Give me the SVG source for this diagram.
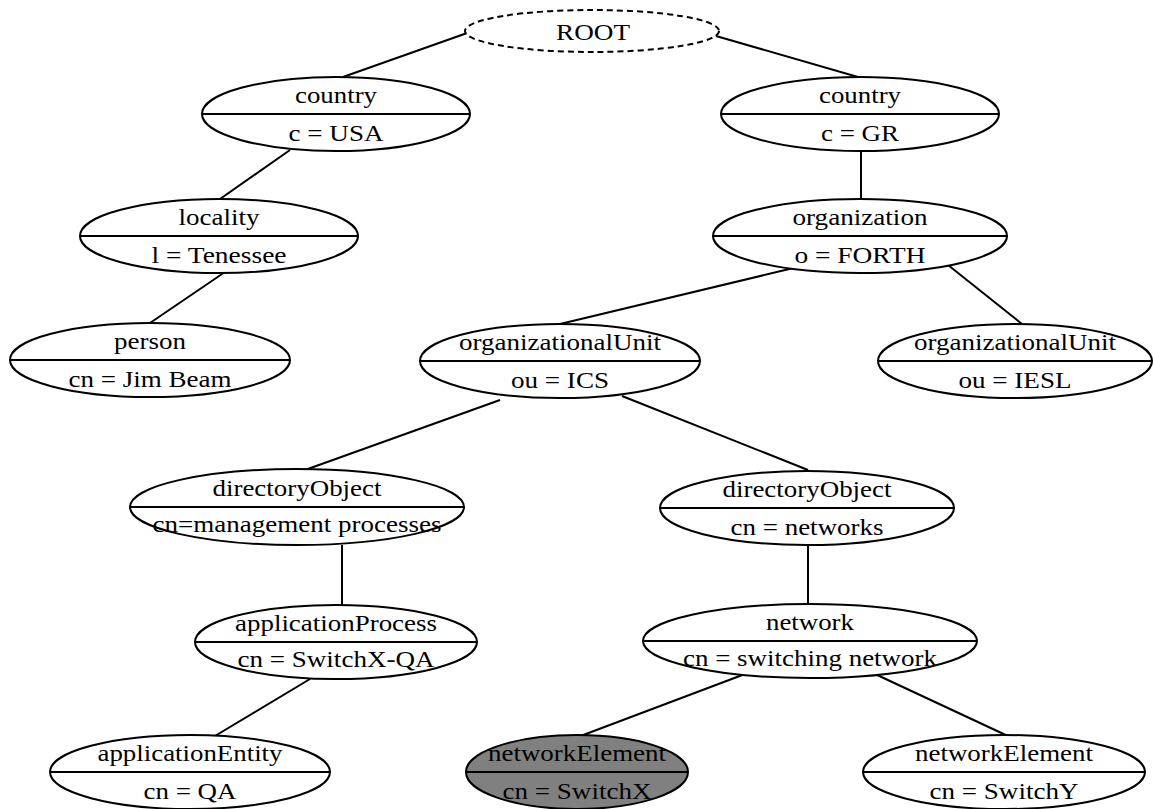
<svg xmlns="http://www.w3.org/2000/svg" width="1153" height="809" viewBox="0 0 1153 809">
  <style>
    .node ellipse { fill: #ffffff; stroke: #000000; stroke-width: 2; }
    .node line { stroke: #000000; stroke-width: 2; }
    .node text { font-family: "Liberation Serif", "Times New Roman", serif; font-size: 24px; fill: #000000; text-anchor: middle; }
    .node.dashed ellipse { stroke-dasharray: 6 4; }
    .node.selected ellipse { fill: #808080; }
    .edges line { stroke: #000000; stroke-width: 2; }
  </style>
  <rect width="1153" height="809" fill="#ffffff"/>

  <!-- tree edges -->
  <g id="edges" class="edges">
    <line x1="470" y1="32" x2="343" y2="77"/>
    <line x1="716" y1="36" x2="858" y2="77"/>
    <line x1="290" y1="150" x2="220" y2="199"/>
    <line x1="225" y1="272" x2="150" y2="323"/>
    <line x1="861" y1="151" x2="861" y2="199"/>
    <line x1="802" y1="266" x2="560" y2="324"/>
    <line x1="948" y1="265" x2="1022" y2="324"/>
    <line x1="500" y1="400" x2="305" y2="470"/>
    <line x1="622" y1="396" x2="808" y2="470"/>
    <line x1="342" y1="545" x2="342" y2="605"/>
    <line x1="808" y1="545" x2="808" y2="604"/>
    <line x1="310" y1="679" x2="200" y2="745"/>
    <line x1="745" y1="674" x2="570" y2="740"/>
    <line x1="875" y1="674" x2="1010" y2="737"/>
  </g>

  <!-- labels are slightly widened with textLength -->
  <g id="root" class="node dashed">
    <ellipse cx="592" cy="31" rx="127" ry="21"/>
    <text x="593" y="40" textLength="74" lengthAdjust="spacingAndGlyphs">ROOT</text>
  </g>

  <g id="country-usa" class="node">
    <ellipse cx="336" cy="114" rx="134" ry="37"/>
    <line x1="202" y1="114" x2="470" y2="114"/>
    <text x="336" y="103" textLength="82" lengthAdjust="spacingAndGlyphs">country</text>
    <text x="336" y="141" textLength="95" lengthAdjust="spacingAndGlyphs">c = USA</text>
  </g>

  <g id="country-gr" class="node">
    <ellipse cx="860" cy="114" rx="139" ry="37"/>
    <line x1="721" y1="114" x2="999" y2="114"/>
    <text x="860" y="103" textLength="82" lengthAdjust="spacingAndGlyphs">country</text>
    <text x="860" y="141" textLength="78" lengthAdjust="spacingAndGlyphs">c = GR</text>
  </g>

  <g id="locality" class="node">
    <ellipse cx="219" cy="236" rx="139" ry="37"/>
    <line x1="80" y1="236" x2="358" y2="236"/>
    <text x="219" y="225" textLength="81" lengthAdjust="spacingAndGlyphs">locality</text>
    <text x="219" y="263" textLength="135" lengthAdjust="spacingAndGlyphs">l = Tenessee</text>
  </g>

  <g id="organization" class="node">
    <ellipse cx="860" cy="236" rx="147" ry="37"/>
    <line x1="713" y1="236" x2="1007" y2="236"/>
    <text x="860" y="225" textLength="135" lengthAdjust="spacingAndGlyphs">organization</text>
    <text x="860" y="263" textLength="131" lengthAdjust="spacingAndGlyphs">o = FORTH</text>
  </g>

  <g id="person" class="node">
    <ellipse cx="150" cy="360" rx="140" ry="37"/>
    <line x1="10" y1="360" x2="290" y2="360"/>
    <text x="150" y="349" textLength="72" lengthAdjust="spacingAndGlyphs">person</text>
    <text x="150" y="387" textLength="163" lengthAdjust="spacingAndGlyphs">cn = Jim Beam</text>
  </g>

  <g id="ou-ics" class="node">
    <ellipse cx="560" cy="361" rx="140" ry="37"/>
    <line x1="420" y1="361" x2="700" y2="361"/>
    <text x="560" y="350" textLength="202" lengthAdjust="spacingAndGlyphs">organizationalUnit</text>
    <text x="560" y="388" textLength="98" lengthAdjust="spacingAndGlyphs">ou = ICS</text>
  </g>

  <g id="ou-iesl" class="node">
    <ellipse cx="1015" cy="361" rx="137" ry="37"/>
    <line x1="878" y1="361" x2="1152" y2="361"/>
    <text x="1015" y="350" textLength="202" lengthAdjust="spacingAndGlyphs">organizationalUnit</text>
    <text x="1015" y="388" textLength="113" lengthAdjust="spacingAndGlyphs">ou = IESL</text>
  </g>

  <g id="dir-management" class="node">
    <ellipse cx="297" cy="507" rx="167" ry="38"/>
    <line x1="130" y1="507" x2="464" y2="507"/>
    <text x="297" y="496" textLength="169" lengthAdjust="spacingAndGlyphs">directoryObject</text>
    <text x="297" y="532" textLength="289" lengthAdjust="spacingAndGlyphs">cn=management processes</text>
  </g>

  <g id="dir-networks" class="node">
    <ellipse cx="807" cy="508" rx="147" ry="37"/>
    <line x1="660" y1="508" x2="954" y2="508"/>
    <text x="807" y="497" textLength="169" lengthAdjust="spacingAndGlyphs">directoryObject</text>
    <text x="807" y="535" textLength="153" lengthAdjust="spacingAndGlyphs">cn = networks</text>
  </g>

  <g id="application-process" class="node">
    <ellipse cx="336" cy="642" rx="141" ry="37"/>
    <line x1="195" y1="642" x2="477" y2="642"/>
    <text x="336" y="631" textLength="202" lengthAdjust="spacingAndGlyphs">applicationProcess</text>
    <text x="336" y="667" textLength="197" lengthAdjust="spacingAndGlyphs">cn = SwitchX-QA</text>
  </g>

  <g id="network" class="node">
    <ellipse cx="810" cy="641" rx="167" ry="37"/>
    <line x1="643" y1="641" x2="977" y2="641"/>
    <text x="810" y="630" textLength="88" lengthAdjust="spacingAndGlyphs">network</text>
    <text x="810" y="666" textLength="254" lengthAdjust="spacingAndGlyphs">cn = switching network</text>
  </g>

  <g id="application-entity" class="node">
    <ellipse cx="190" cy="772" rx="140" ry="37"/>
    <line x1="50" y1="772" x2="330" y2="772"/>
    <text x="190" y="761" textLength="185" lengthAdjust="spacingAndGlyphs">applicationEntity</text>
    <text x="190" y="799" textLength="93" lengthAdjust="spacingAndGlyphs">cn = QA</text>
  </g>

  <g id="network-element-x" class="node selected">
    <ellipse cx="577" cy="772" rx="111" ry="37"/>
    <line x1="466" y1="772" x2="688" y2="772"/>
    <text x="577" y="761" textLength="178" lengthAdjust="spacingAndGlyphs">networkElement</text>
    <text x="577" y="799" textLength="149" lengthAdjust="spacingAndGlyphs">cn = SwitchX</text>
  </g>

  <g id="network-element-y" class="node">
    <ellipse cx="1004" cy="772" rx="141" ry="37"/>
    <line x1="863" y1="772" x2="1145" y2="772"/>
    <text x="1004" y="761" textLength="178" lengthAdjust="spacingAndGlyphs">networkElement</text>
    <text x="1004" y="799" textLength="149" lengthAdjust="spacingAndGlyphs">cn = SwitchY</text>
  </g>
</svg>
